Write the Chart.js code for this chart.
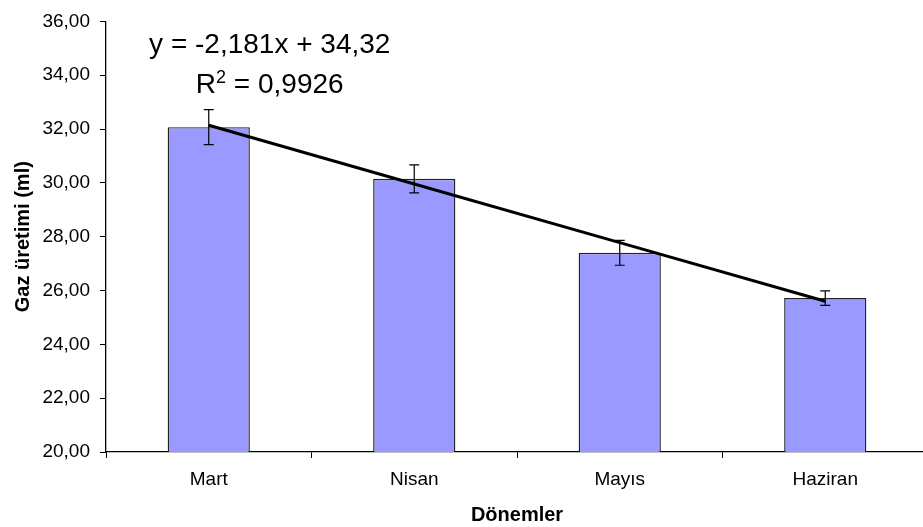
<!DOCTYPE html>
<html>
<head>
<meta charset="utf-8">
<script src="https://cdn.jsdelivr.net/npm/chart.js@4/dist/chart.umd.min.js"></script>
<style>
  html, body { margin: 0; padding: 0; background: #fff; overflow: hidden; width: 923px; height: 527px; }
  #wrap { width: 940px; height: 527px; }
</style>
</head>
<body>
<div id="wrap"><canvas id="c" width="940" height="527"></canvas></div>
<script>
// ---- data ----
const categories = ['Mart', 'Nisan', 'Mayıs', 'Haziran'];
const gasMeans   = [32.07, 30.15, 27.40, 25.72];
const gasErrors  = [0.65, 0.52, 0.46, 0.27];
const trendLine  = [32.14, 29.96, 27.78, 25.60];   // y = -2,181x + 34,32
const equationText = 'y = -2,181x + 34,32';
const r2Label = '0,9926';
const yTicks = { min: 20, max: 36, step: 2 };
const xTitle = 'Dönemler';
const yTitle = 'Gaz üretimi (ml)';

const FONT = '"Liberation Sans", Arial, Helvetica, sans-serif';

const errorBarPlugin = {
  id: 'errorBars',
  afterDatasetsDraw(chart) {
    const ctx = chart.ctx;
    const meta = chart.getDatasetMeta(1);
    const ys = chart.scales.y;
    ctx.save();
    ctx.strokeStyle = '#000';
    ctx.lineWidth = 1.2;
    meta.data.forEach((bar, i) => {
      const x = bar.x;
      const top = ys.getPixelForValue(gasMeans[i] + gasErrors[i]);
      const bot = ys.getPixelForValue(gasMeans[i] - gasErrors[i]);
      ctx.beginPath();
      ctx.moveTo(x, top); ctx.lineTo(x, bot);
      ctx.moveTo(x - 5, top); ctx.lineTo(x + 5, top);
      ctx.moveTo(x - 5, bot); ctx.lineTo(x + 5, bot);
      ctx.stroke();
    });
    ctx.restore();
  }
};

const equationPlugin = {
  id: 'equation',
  afterDraw(chart) {
    const ctx = chart.ctx;
    const xs = chart.scales.x, ys = chart.scales.y;
    const cx = xs.getPixelForValue(0) + 61;
    ctx.save();
    ctx.fillStyle = '#000';
    ctx.textBaseline = 'alphabetic';
    ctx.textAlign = 'center';
    ctx.font = '28px ' + FONT;
    ctx.fillText(equationText, cx, ys.getPixelForValue(34.83));
    // R² line
    const base = ys.getPixelForValue(33.33);
    const partR = 'R';
    const partRest = ' = ' + r2Label;
    ctx.font = '28px ' + FONT;
    const wR = ctx.measureText(partR).width;
    const wRest = ctx.measureText(partRest).width;
    ctx.font = '18px ' + FONT;
    const wSup = ctx.measureText('2').width;
    const total = wR + wSup + wRest;
    let x0 = cx - total / 2;
    ctx.textAlign = 'left';
    ctx.font = '28px ' + FONT;
    ctx.fillText(partR, x0, base);
    ctx.font = '18px ' + FONT;
    ctx.fillText('2', x0 + wR, base - 10);
    ctx.font = '28px ' + FONT;
    ctx.fillText(partRest, x0 + wR + wSup, base);
    ctx.restore();
  }
};

new Chart(document.getElementById('c'), {
  data: {
    labels: categories,
    datasets: [
      {
        type: 'line',
        data: trendLine,
        borderColor: '#000',
        borderWidth: 3,
        pointRadius: 0,
        fill: false,
        tension: 0,
        order: 0
      },
      {
        type: 'bar',
        data: gasMeans,
        backgroundColor: '#9999FF',
        borderColor: '#222',
        borderWidth: 1.4,
        barPercentage: 0.4,
        categoryPercentage: 1.0,
        order: 1
      }
    ]
  },
  options: {
    responsive: false,
    animation: false,
    layout: { padding: { left: 0, right: 12, top: 14, bottom: 0 } },
    plugins: { legend: { display: false }, tooltip: { enabled: false } },
    scales: {
      x: {
        offset: true,
        grid: { display: true, drawOnChartArea: false, drawTicks: true, tickLength: 6, color: '#000', offset: true },
        border: { display: true, color: '#000', width: 1.3 },
        ticks: { color: '#000', font: { family: FONT, size: 19 }, padding: 10, maxRotation: 0 },
        title: { display: true, text: xTitle, color: '#000', font: { family: FONT, size: 20, weight: 'bold' }, padding: { top: 0, bottom: 0 } },
        afterFit(s) { s.height = 75; }
      },
      y: {
        min: yTicks.min, max: yTicks.max,
        grid: { display: true, drawOnChartArea: false, drawTicks: true, tickLength: 6, color: '#000' },
        border: { display: true, color: '#000', width: 1.3 },
        ticks: {
          stepSize: yTicks.step,
          color: '#000',
          font: { family: FONT, size: 19 },
          padding: 10,
          callback: v => v.toFixed(2).replace('.', ',')
        },
        title: { display: true, text: yTitle, color: '#000', font: { family: FONT, size: 20, weight: 'bold' }, padding: { top: 11, bottom: 0 } },
        afterFit(s) { s.width = 106; }
      }
    }
  },
  plugins: [errorBarPlugin, equationPlugin]
});
</script>
</body>
</html>
